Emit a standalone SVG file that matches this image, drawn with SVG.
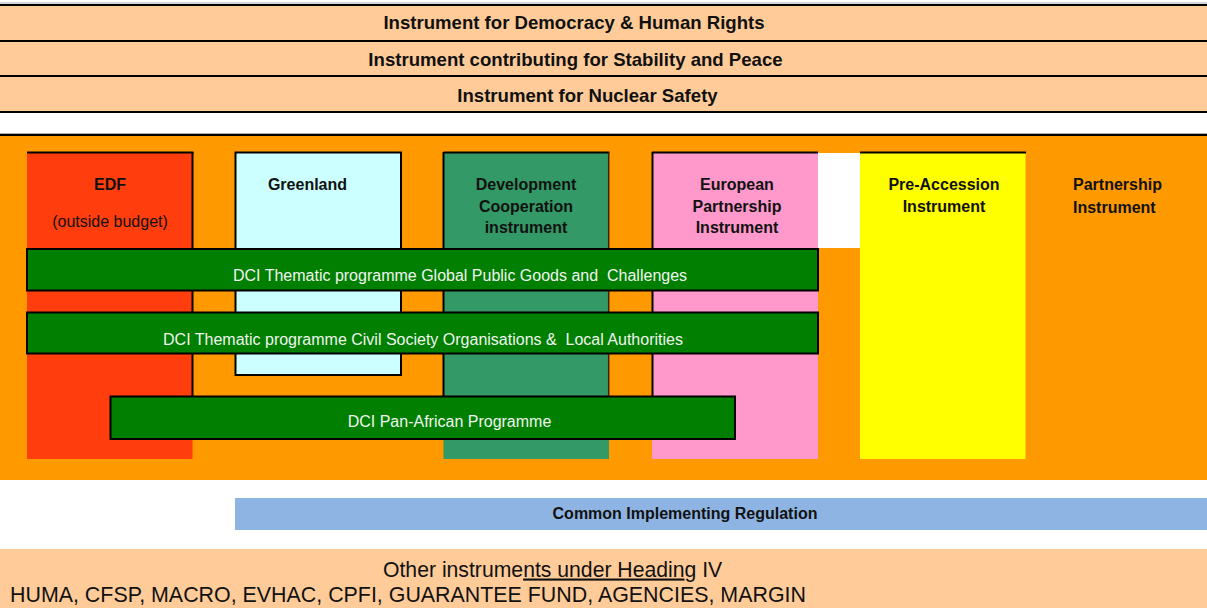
<svg xmlns="http://www.w3.org/2000/svg" width="1207" height="608" viewBox="0 0 1207 608">
<style>
text{font-family:"Liberation Sans",Arial,sans-serif;fill:#111}
.band{font-size:18.6px;font-weight:bold;text-anchor:middle}
.lbl{font-size:16px;font-weight:bold;text-anchor:middle}
.lbl-left{font-size:16px;font-weight:bold;text-anchor:start}
.bar{font-size:16px;fill:#F0F5F0;text-anchor:middle}
.edge{stroke:#000;stroke-width:2;fill:none}
.gbar{fill:#007F00;stroke:#000;stroke-width:2}
</style>
<rect x="0" y="0" width="1207" height="608" fill="#fff"/>
<g id="top-bands">
<rect x="0" y="5" width="1207" height="107" fill="#FFCC99"/>
<line x1="0" y1="3" x2="1207" y2="3" stroke="#aaa" stroke-width="1"/>
<line class="edge" x1="0" y1="5" x2="1207" y2="5"/>
<line class="edge" x1="0" y1="41" x2="1207" y2="41"/>
<line class="edge" x1="0" y1="76" x2="1207" y2="76"/>
<line class="edge" x1="0" y1="112" x2="1207" y2="112"/>
<text class="band" x="574" y="29">Instrument for Democracy &amp; Human Rights</text>
<text class="band" x="575.5" y="65.5">Instrument contributing for Stability and Peace</text>
<text class="band" x="587.5" y="102">Instrument for Nuclear Safety</text>
</g>
<g id="orange-area">
<line x1="0" y1="133.5" x2="1207" y2="133.5" stroke="#aaa" stroke-width="1"/>
<rect x="0" y="135" width="1207" height="345" fill="#FF9900"/>
<line class="edge" x1="0" y1="135" x2="1207" y2="135"/>
</g>
<g id="edf">
<rect x="27" y="152" width="165.5" height="307" fill="#FF3D0D"/>
<line class="edge" x1="27" y1="152.5" x2="193.5" y2="152.5"/>
<line class="edge" x1="192.5" y1="152" x2="192.5" y2="396"/>
<text class="lbl" x="110" y="190">EDF</text>
<text x="110" y="226.5" font-size="16" text-anchor="middle">(outside budget)</text>
</g>
<g id="greenland">
<rect x="235.5" y="152.5" width="165.5" height="222.5" fill="#CCFFFF" stroke="#000" stroke-width="2"/>
<text class="lbl" x="307.5" y="190">Greenland</text>
</g>
<g id="dci">
<rect x="443.5" y="152" width="165.5" height="307" fill="#339966"/>
<line class="edge" x1="443.5" y1="152.5" x2="609.5" y2="152.5"/>
<line class="edge" x1="443.5" y1="152" x2="443.5" y2="396"/>
<line x1="608.7" y1="152" x2="608.7" y2="396" stroke="#402000" stroke-width="1.5"/>
<text class="lbl" x="526" y="190">Development</text>
<text class="lbl" x="526" y="212">Cooperation</text>
<text class="lbl" x="526" y="233">instrument</text>
</g>
<g id="european-partnership">
<rect x="652" y="152" width="166" height="307" fill="#FF99CC"/>
<rect x="818" y="153" width="42" height="95" fill="#fff"/>
<line class="edge" x1="652" y1="152.5" x2="818" y2="152.5"/>
<line class="edge" x1="652.5" y1="152" x2="652.5" y2="396"/>
<text class="lbl" x="737" y="190">European</text>
<text class="lbl" x="737" y="212">Partnership</text>
<text class="lbl" x="737" y="233">Instrument</text>
</g>
<g id="pre-accession">
<rect x="860" y="152" width="165.5" height="307" fill="#FFFF00"/>
<line class="edge" x1="860" y1="152.5" x2="1026" y2="152.5"/>
<text class="lbl" x="944" y="190">Pre-Accession</text>
<text class="lbl" x="944" y="212">Instrument</text>
</g>
<g id="partnership">
<text class="lbl-left" x="1073" y="190">Partnership</text>
<text class="lbl-left" x="1073" y="213">Instrument</text>
</g>
<g id="dci-global-public-goods">
<rect class="gbar" x="27" y="249" width="791" height="41.5"/>
<text class="bar" x="460" y="280.5" xml:space="preserve">DCI Thematic programme Global Public Goods and  Challenges</text>
</g>
<g id="dci-civil-society">
<rect class="gbar" x="27" y="312.5" width="791" height="41"/>
<text class="bar" x="423" y="344.5" xml:space="preserve">DCI Thematic programme Civil Society Organisations &amp;  Local Authorities</text>
</g>
<g id="dci-pan-african">
<rect class="gbar" x="110.5" y="396.5" width="624.5" height="42.5"/>
<text class="bar" x="449.5" y="426.5">DCI Pan-African Programme</text>
</g>
<g id="common-implementing-regulation">
<rect x="235" y="498" width="972" height="32" fill="#8EB4E3"/>
<text x="685" y="518.5" font-size="16" font-weight="bold" text-anchor="middle">Common Implementing Regulation</text>
</g>
<g id="other-instruments">
<rect x="0" y="549" width="1207" height="59" fill="#FFCC99"/>
<text x="383" y="576.5" font-size="21.2" xml:space="preserve">Other instrume<tspan text-decoration="underline">nts under Headin</tspan>g IV</text>
<text x="10" y="602" font-size="21.4">HUMA, CFSP, MACRO, EVHAC, CPFI, GUARANTEE FUND, AGENCIES, MARGIN</text>
</g>
</svg>
